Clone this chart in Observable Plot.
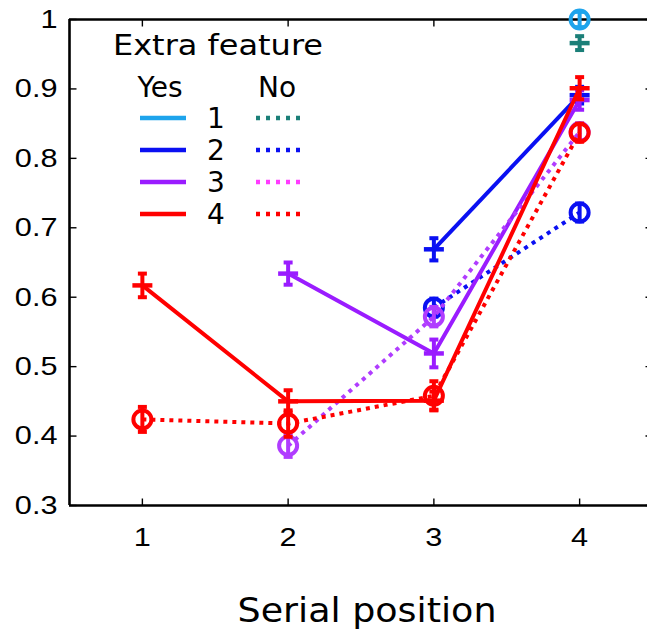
<!DOCTYPE html>
<html><head><meta charset="utf-8">
<script src="https://cdn.jsdelivr.net/npm/d3@7"></script>
<script src="https://cdn.jsdelivr.net/npm/@observablehq/plot@0.6"></script>
<style>
body{margin:0;background:#fff}
#chart{position:relative;width:647px;height:632px;overflow:hidden}
</style>
</head><body><div id="chart"></div>
<script>
// ---------- data ----------
const positions = [1, 2, 3, 4];
const xTickLabels = ["1", "2", "3", "4"];
const yTicks = [0.3, 0.4, 0.5, 0.6, 0.7, 0.8, 0.9, 1];
const yTickLabels = ["0.3", "0.4", "0.5", "0.6", "0.7", "0.8", "0.9", "1"];
const seriesNames = ["1", "2", "3", "4"];
const featureLevels = ["Yes", "No"];

// mean proportion correct per serial position (null = no point)
const yes1 = [null, null, null, 1.000];
const no1  = [null, null, null, 0.966];
const yes2 = [null, null, 0.669, 0.891];
const no2  = [null, null, 0.585, 0.722];
const yes3 = [null, 0.634, 0.519, 0.884];
const no3  = [null, 0.386, 0.572, 0.838];
const yes4 = [0.617, 0.450, 0.451, 0.901];
const no4  = [0.424, 0.418, 0.458, 0.837];

// standard errors
const errYes1 = [null, null, null, 0.011];
const errNo1  = [null, null, null, 0.010];
const errYes2 = [null, null, 0.016, 0.012];
const errNo2  = [null, null, 0.013, 0.013];
const errYes3 = [null, 0.016, 0.020, 0.014];
const errNo3  = [null, 0.016, 0.014, 0.012];
const errYes4 = [0.017, 0.016, 0.013, 0.016];
const errNo4  = [0.018, 0.019, 0.021, 0.013];

// ---------- styles ----------
const colorYes = {"1": "#1ea4ec", "2": "#0a10f2", "3": "#9a1cff", "4": "#ff0000"};
const colorNo  = {"1": "#1b7f78", "2": "#0a10f2", "3": "#b03cff", "4": "#ff0000"};
const legendColorNo = {"1": "#1b7f78", "2": "#0a10f2", "3": "#ff3cff", "4": "#ff0000"};
const markerYes = {"1": "circle", "2": "plus", "3": "plus", "4": "plus"};
const markerNo  = {"1": "plus", "2": "circle", "3": "circle", "4": "circle"};

const valueTable = {
  "1": {Yes: [yes1, errYes1], No: [no1, errNo1]},
  "2": {Yes: [yes2, errYes2], No: [no2, errNo2]},
  "3": {Yes: [yes3, errYes3], No: [no3, errNo3]},
  "4": {Yes: [yes4, errYes4], No: [no4, errNo4]}
};

// custom symbols
const hline = {draw(ctx, size) { const r = Math.sqrt(size / Math.PI); ctx.moveTo(-r, 0); ctx.lineTo(r, 0); }};
const tickRight = {draw(ctx, size) { const r = Math.sqrt(size / Math.PI); ctx.moveTo(0, 0); ctx.lineTo(r, 0); }};
const tickLeft = {draw(ctx, size) { const r = Math.sqrt(size / Math.PI); ctx.moveTo(0, 0); ctx.lineTo(-r, 0); }};
const tickUp = {draw(ctx, size) { const r = Math.sqrt(size / Math.PI); ctx.moveTo(0, 0); ctx.lineTo(0, -r); }};
const tickDown = {draw(ctx, size) { const r = Math.sqrt(size / Math.PI); ctx.moveTo(0, 0); ctx.lineTo(0, r); }};

const xDomain = [0.5, 4.5];
const yDomain = [0.3, 1];

const marks = [];
// frame
marks.push(Plot.ruleY([yDomain[0], yDomain[1]], {stroke: "#000", strokeWidth: 2.6}));
marks.push(Plot.ruleX([xDomain[0], xDomain[1]], {stroke: "#000", strokeWidth: 2.6}));
// inward ticks
marks.push(Plot.dot(yTicks, {x: () => xDomain[0], y: d => d, symbol: tickRight, r: 7, stroke: "#000", strokeWidth: 1.4}));
marks.push(Plot.dot(yTicks, {x: () => xDomain[1], y: d => d, symbol: tickLeft, r: 7, stroke: "#000", strokeWidth: 1.4}));
marks.push(Plot.dot(positions, {x: d => d, y: () => yDomain[0], symbol: tickUp, r: 7, stroke: "#000", strokeWidth: 1.4}));
marks.push(Plot.dot(positions, {x: d => d, y: () => yDomain[1], symbol: tickDown, r: 7, stroke: "#000", strokeWidth: 1.4}));

for (const s of seriesNames) {
  for (const f of featureLevels) {
    const [vals, errs] = valueTable[s][f];
    const rows = positions.map((p, i) => ({pos: p, value: vals[i], err: errs[i]})).filter(d => d.value != null);
    const color = f === "Yes" ? colorYes[s] : colorNo[s];
    const marker = f === "Yes" ? markerYes[s] : markerNo[s];
    marks.push(Plot.line(rows, {x: "pos", y: "value", stroke: color, strokeWidth: 4,
      strokeDasharray: f === "No" ? "4,5" : null, strokeLinecap: "butt"}));
    marks.push(Plot.ruleX(rows, {x: "pos", y1: d => d.value - d.err, y2: d => d.value + d.err, stroke: color, strokeWidth: 4}));
    marks.push(Plot.dot(rows, {x: "pos", y: d => d.value + d.err, symbol: hline, r: 4.5, stroke: color, strokeWidth: 4}));
    marks.push(Plot.dot(rows, {x: "pos", y: d => d.value - d.err, symbol: hline, r: 4.5, stroke: color, strokeWidth: 4}));
    if (marker === "circle") {
      marks.push(Plot.dot(rows, {x: "pos", y: "value", r: 9, stroke: color, strokeWidth: 4, fill: "none"}));
    } else {
      marks.push(Plot.dot(rows, {x: "pos", y: "value", symbol: hline, r: 10, stroke: color, strokeWidth: 4.5}));
    }
  }
}

marks.push(Plot.axisY({ticks: yTicks, tickFormat: d => yTickLabels[yTicks.indexOf(d)], tickSize: 0, tickPadding: 12, label: null}));
marks.push(Plot.axisX({ticks: positions, tickFormat: d => xTickLabels[positions.indexOf(d)], tickSize: 0, tickPadding: 22, label: null}));

const svg = Plot.plot({
  width: 647, height: 632,
  marginLeft: 69, marginRight: 0, marginTop: 19, marginBottom: 127,
  x: {domain: xDomain, range: [69, 652]},
  y: {domain: yDomain},
  style: {fontFamily: "Liberation Sans, Arial, sans-serif", fontSize: "26px", color: "#000", background: "#fff", overflow: "visible"},
  marks
});
document.getElementById("chart").appendChild(svg);

// tick-label font, widened horizontally to match the reference glyph proportions
const root = d3.select(svg);
root.selectAll("text")
  .style("font-size", "26px")
  .style("font-family", "'Liberation Sans', Arial, sans-serif")
  .attr("fill", "#000")
  .each(function () {
    const t = this.getAttribute("transform");
    if (t) this.setAttribute("transform", t + " scale(1.18,1)");
  });

// ---------- legend and axis label ----------
const lg = root.append("g").attr("font-family", "DejaVu Sans, sans-serif").attr("fill", "#000");
lg.append("text").attr("x", 113).attr("y", 55).attr("font-size", 29).attr("text-anchor", "start")
  .attr("textLength", 210).attr("lengthAdjust", "spacingAndGlyphs").text("Extra feature");
lg.append("text").attr("x", 160).attr("y", 97).attr("font-size", 28).attr("text-anchor", "middle").text(featureLevels[0]);
lg.append("text").attr("x", 277).attr("y", 97).attr("font-size", 28).attr("text-anchor", "middle").text(featureLevels[1]);
seriesNames.forEach((s, i) => {
  const ly = 118 + i * 32;
  lg.append("line").attr("x1", 140).attr("x2", 186).attr("y1", ly).attr("y2", ly)
    .attr("stroke", colorYes[s]).attr("stroke-width", 4.5);
  lg.append("line").attr("x1", 256).attr("x2", 302).attr("y1", ly).attr("y2", ly)
    .attr("stroke", legendColorNo[s]).attr("stroke-width", 4.5).attr("stroke-dasharray", "4,6");
  lg.append("text").attr("x", 216).attr("y", ly + 10).attr("font-size", 28).attr("text-anchor", "middle").text(s);
});
root.append("text").attr("x", 367).attr("y", 622).attr("font-family", "DejaVu Sans, sans-serif")
  .attr("font-size", 33).attr("text-anchor", "middle").attr("fill", "#000")
  .attr("textLength", 259).attr("lengthAdjust", "spacingAndGlyphs").text("Serial position");
</script>
</body></html>
